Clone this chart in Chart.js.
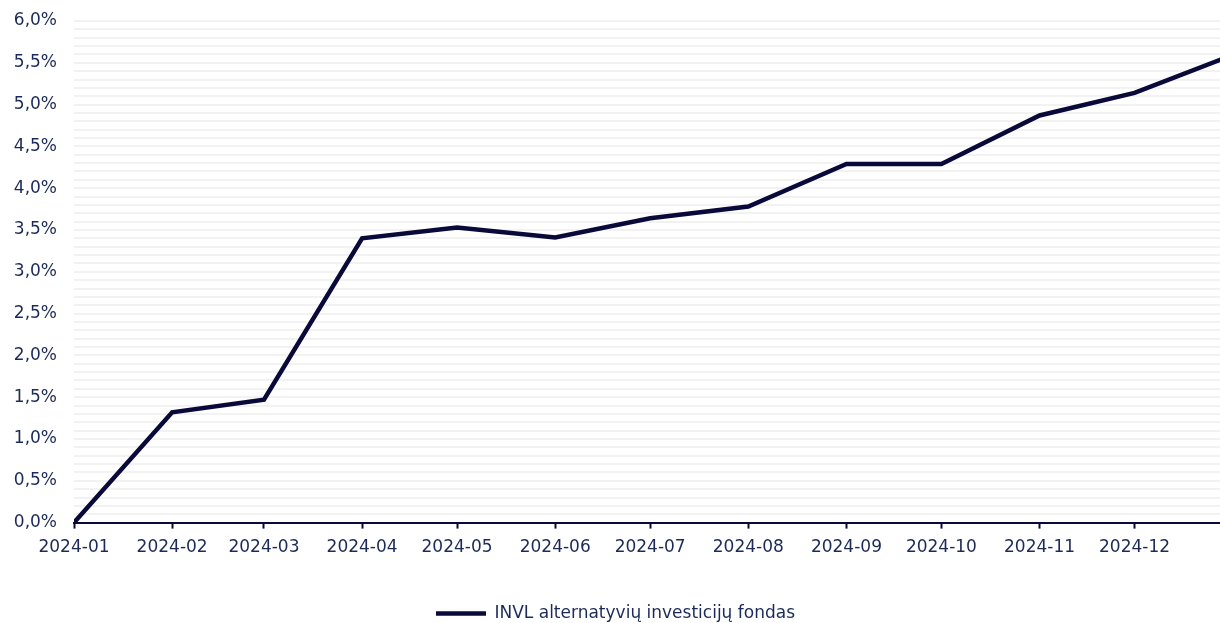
<!DOCTYPE html>
<html>
<head>
<meta charset="utf-8">
<script src="https://cdn.jsdelivr.net/npm/chart.js@4.4.1/dist/chart.umd.min.js"></script>
<style>
  html, body { margin: 0; padding: 0; background: #fff; }
  #wrap { width: 1220px; height: 623px; }
</style>
</head>
<body>
<div id="wrap"><canvas id="chart"></canvas></div>
<script>
// Duomenys (nuskaityta nuo grafiko)
const seriesName = "INVL alternatyvių investicijų fondas";
const dates = [
  "2024-01-01", "2024-02-01", "2024-03-01", "2024-04-01", "2024-05-01", "2024-06-01",
  "2024-07-01", "2024-08-01", "2024-09-01", "2024-10-01", "2024-11-01", "2024-12-01",
  "2024-12-31"
];
const values = [0.00, 1.32, 1.47, 3.40, 3.53, 3.41, 3.64, 3.78, 4.29, 4.29, 4.87, 5.14, 5.58];
const monthLabels = [
  "2024-01", "2024-02", "2024-03", "2024-04", "2024-05", "2024-06",
  "2024-07", "2024-08", "2024-09", "2024-10", "2024-11", "2024-12"
];

const navy = "#0a0a3a";
const textColor = "#1b2a58";

// dienos nuo metų pradžios
const dayOf = (s) => (Date.parse(s) - Date.parse("2024-01-01")) / 86400000;
const points = dates.map((d, i) => ({ x: dayOf(d), y: values[i] }));
const monthTicks = monthLabels.map((m) => dayOf(m + "-01"));

const ctx = document.getElementById("chart").getContext("2d");
new Chart(ctx, {
  type: "line",
  data: {
    datasets: [
      {
        label: seriesName,
        data: points,
        borderColor: navy,
        backgroundColor: navy,
        borderWidth: 4.5,
        pointRadius: 0,
        tension: 0,
      },
    ],
  },
  options: {
    responsive: true,
    maintainAspectRatio: false,
    animation: false,
    layout: { padding: { left: 11, top: 21, right: 0, bottom: -9 } },
    plugins: {
      tooltip: { enabled: false },
      legend: {
        position: "bottom",
        labels: {
          usePointStyle: true,
          pointStyle: "line",
          pointStyleWidth: 50,
          color: textColor,
          font: { family: "DejaVu Sans", size: 17 },
          padding: 3,
        },
      },
    },
    scales: {
      x: {
        type: "linear",
        min: 0,
        max: 362,
        afterBuildTicks: (axis) => {
          axis.ticks = monthTicks.map((v) => ({ value: v }));
        },
        afterFit: (axis) => {
          axis.height += 35;
        },
        ticks: {
          autoSkip: false,
          maxRotation: 0,
          color: textColor,
          font: { family: "DejaVu Sans", size: 17 },
          padding: 9,
          callback: (v, i) => monthLabels[i],
        },
        grid: {
          drawOnChartArea: false,
          drawTicks: true,
          tickLength: 6,
          tickWidth: 2,
          tickColor: navy,
        },
        border: { display: true, color: navy, width: 2 },
      },
      y: {
        min: 0,
        max: 6,
        afterFit: (axis) => {
          axis.width = 63;
          axis.paddingTop = 0;
          axis.paddingBottom = 0;
        },
        ticks: {
          stepSize: 0.1,
          autoSkip: false,
          color: textColor,
          font: { family: "DejaVu Sans", size: 17 },
          padding: 17,
          callback: (v) => {
            const r = Math.round(v * 10);
            if (r % 5 !== 0) return "";
            return (r / 10).toFixed(1).replace(".", ",") + "%";
          },
        },
        grid: {
          color: "#f2f2f2",
          lineWidth: 2,
          drawTicks: false,
        },
        border: { display: false },
      },
    },
  },
});
</script>
</body>
</html>
